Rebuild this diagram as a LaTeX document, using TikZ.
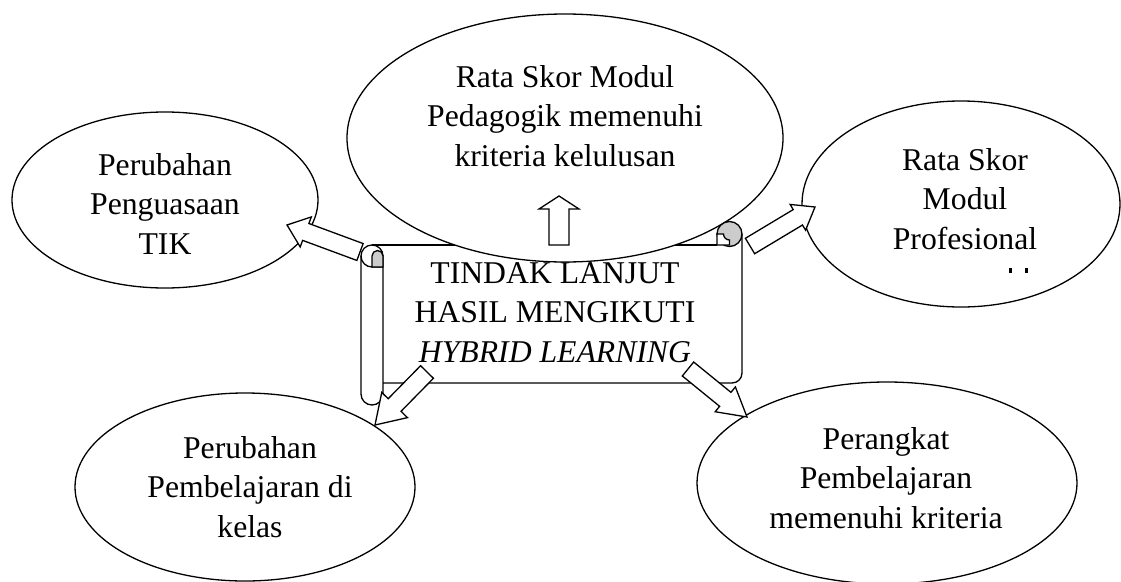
\documentclass[tikz,border=0pt]{standalone}
\usepackage{fontspec}
\setmainfont{Liberation Serif}
\usetikzlibrary{shapes.geometric,calc}
\definecolor{curlgrey}{RGB}{204,204,204}
\newcommand\mylines[1]{\begin{tabular}[t]{@{}c@{}}#1\end{tabular}}
\newcommand\blockarrow[5]{%
  \coordinate (#1J) at ($(#2)!#5!(#1)$);
  \draw[blockarr] ($(#1)!#3!90:(#2)$) -- ($(#1J)!#3!90:(#2)$) -- ($(#1J)!#4!90:(#2)$) -- (#2)
    -- ($(#1J)!#4!-90:(#2)$) -- ($(#1J)!#3!-90:(#2)$) -- ($(#1)!#3!-90:(#2)$) -- cycle;}
\begin{document}
\begin{tikzpicture}[x=1pt,y=-1pt,line width=1.3pt,
  oval/.style={draw, ellipse, fill=white, inner sep=0pt, line width=1.3pt},
  txt/.style={inner sep=0pt, anchor=base, font=\fontsize{31.7}{39.5}\selectfont},
  blockarr/.style={draw, fill=white, line width=1.3pt, line join=miter}]
\useasboundingbox (0,0) rectangle (1121,581);

% scroll (drawn first)
\draw (372,245) -- (717,245);
\draw (383,256) arc[start angle=0, end angle=-180, radius=11] -- (361,394)
      arc[start angle=180, end angle=0, radius=11] -- cycle;
\draw (361,256) arc[start angle=180, end angle=90, radius=11] -- (383,267);
\filldraw[fill=curlgrey] (372,267) -- (372,256) arc[start angle=180, end angle=360, radius=5.5] -- (383,267) -- cycle;
\draw (383,383) -- (732,383) arc[start angle=90, end angle=0, radius=10] -- (742,234);

% top centre ellipse
\node[oval, minimum width=436pt, minimum height=248pt] (pedagogik) at (565,138) {};

% right curl of the scroll
\filldraw[fill=curlgrey] (729.5,234) circle[radius=12.5];
\filldraw[fill=white] (717,234) -- (717,245) -- (729.5,245) -- (729.5,240)
      arc[start angle=90, end angle=180, radius=6] -- cycle;

% other ellipses
\node[oval, minimum width=306pt, minimum height=176pt] (tik) at (165,200) {};
\node[oval, minimum width=318pt, minimum height=206pt] (profesional) at (961,204) {};
\node[oval, minimum width=340pt, minimum height=188pt] (kelas) at (245,487) {};
\node[oval, minimum width=380pt, minimum height=202pt] (perangkat) at (887,483) {};

% texts
\node[txt] (tpedagogik) at (565,87) {\mylines{Rata Skor Modul\\Pedagogik memenuhi\\kriteria kelulusan}};
\node[txt] (ttik) at (165,175) {\mylines{Perubahan\\Penguasaan\\TIK}};
\node[txt] (tprofesional) at (965,170) {\mylines{Rata Skor\\Modul\\Profesional}};
\node[txt] (tkelas) at (250,458) {\mylines{Perubahan\\Pembelajaran di\\kelas}};
\node[txt] (tperangkat) at (886,449) {\mylines{Perangkat\\Pembelajaran\\memenuhi kriteria}};
\node[txt] (tscroll) at (555,283) {\mylines{TINDAK LANJUT\\HASIL MENGIKUTI\\\textit{HYBRID LEARNING}}};

% clipped remnants below "Profesional"
\fill (1008.5,268) rectangle (1011.5,272.5);
\fill (1025,268) rectangle (1028,272.5);

% block arrows
\coordinate (upT) at (559,245); \coordinate (upP) at (559,196);
\coordinate (lfT) at (360,252); \coordinate (lfP) at (287,225);
\coordinate (rtT) at (750,246); \coordinate (rtP) at (815,207);
\coordinate (blT) at (427,372); \coordinate (blP) at (375,425);
\coordinate (brT) at (688,369); \coordinate (brP) at (747,417);
\blockarrow{upT}{upP}{10pt}{20pt}{13pt}
\blockarrow{lfT}{lfP}{9pt}{16pt}{20pt}
\blockarrow{rtT}{rtP}{9pt}{15pt}{20pt}
\blockarrow{blT}{blP}{9pt}{18pt}{28pt}
\blockarrow{brT}{brP}{9pt}{16pt}{28pt}
\end{tikzpicture}
\end{document}
